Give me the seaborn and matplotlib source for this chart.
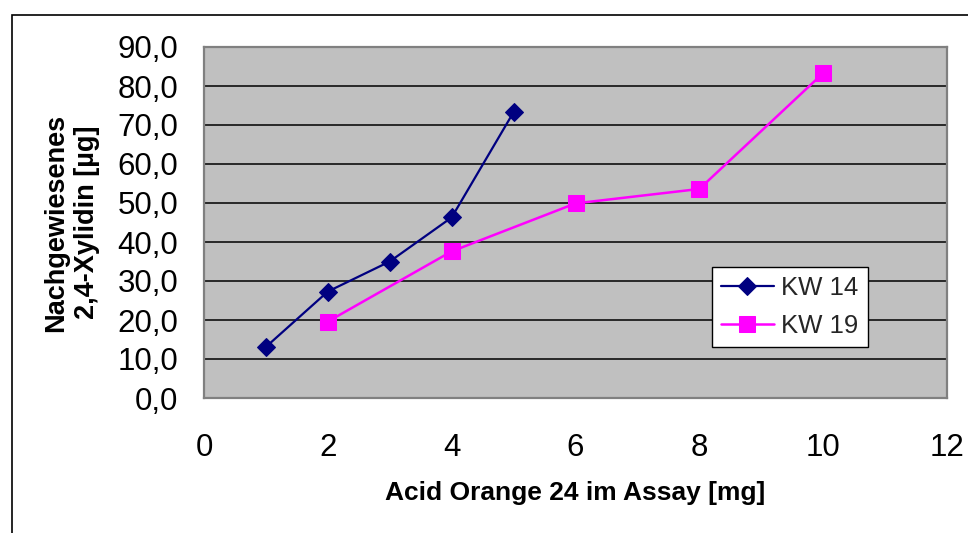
import matplotlib
matplotlib.use("Agg")
import matplotlib.pyplot as plt
from matplotlib.patches import Rectangle
import pandas as pd
import seaborn as sns

# Acid Orange 24 amount in the assay [mg] and detected 2,4-xylidine [µg]
kw14_x = [1, 2, 3, 4, 5]
kw14_y = [13.1, 27.3, 35.0, 46.3, 73.3]
kw19_x = [2, 4, 6, 8, 10]
kw19_y = [19.6, 37.6, 49.9, 53.6, 83.3]
series_names = ["KW 14", "KW 19"]

x_ticks = [0, 2, 4, 6, 8, 10, 12]
y_ticks = [0, 10, 20, 30, 40, 50, 60, 70, 80, 90]
x_title = "Acid Orange 24 im Assay [mg]"
y_title = "Nachgewiesenes\n2,4-Xylidin [µg]"

df14 = pd.DataFrame({"mg": kw14_x, "ug": kw14_y, "Serie": series_names[0]})
df19 = pd.DataFrame({"mg": kw19_x, "ug": kw19_y, "Serie": series_names[1]})

sns.set_theme(style="white")
plt.rcParams["font.family"] = ["Liberation Sans", "DejaVu Sans"]

fig = plt.figure(figsize=(9.68, 5.33), dpi=100)
ax = fig.add_axes([204 / 968, 1 - 398 / 533, 743 / 968, 351 / 533])
ax.set_facecolor("#C0C0C0")

sns.lineplot(data=df14, x="mg", y="ug", ax=ax, color="#000080", marker="D",
             markersize=8.8, markeredgecolor="#000080", linewidth=1.6,
             label=series_names[0], zorder=3)
sns.lineplot(data=df19, x="mg", y="ug", ax=ax, color="#FF00FF", marker="s",
             markersize=11, markeredgecolor="#FF00FF", linewidth=1.8,
             label=series_names[1], zorder=3)

ax.set_xlim(0, 12)
ax.set_ylim(0, 90)
ax.set_xticks(x_ticks)
ax.set_yticks(y_ticks)
ax.set_xticklabels([str(v) for v in x_ticks])
ax.set_yticklabels([f"{v:.1f}".replace(".", ",") for v in y_ticks])

ax.yaxis.grid(True, color="black", linewidth=1.1)
ax.xaxis.grid(False)
ax.set_axisbelow(True)

for side, sp in ax.spines.items():
    sp.set_visible(True)
    sp.set_color("#808080")
    sp.set_linewidth(1.6)

ax.tick_params(axis="both", which="major", direction="out", length=7.5,
               width=1.0, color="#303030", labelsize=22.5, labelcolor="black")
ax.tick_params(axis="x", pad=17.5)
ax.tick_params(axis="y", pad=11)

ax.set_xlabel(x_title, fontsize=19, fontweight="bold", color="black")
ax.set_ylabel(y_title, fontsize=19.5, fontweight="bold", color="black",
              linespacing=1.25)
ax.xaxis.set_label_coords(0.5, (398 - 481) / 351)
ax.xaxis.label.set_va("top")
ax.yaxis.set_label_coords((100 - 204) / 743, 0.5)

leg = ax.legend(loc="upper left",
                bbox_to_anchor=(712 / 968, 1 - 267 / 533),
                bbox_transform=fig.transFigure,
                frameon=True, fancybox=False, framealpha=1,
                edgecolor="black", facecolor="white", fontsize=18.5,
                handlelength=2.05, handletextpad=0.3, borderpad=0.35,
                labelspacing=0.55, borderaxespad=0)
leg.get_frame().set_linewidth(1.0)

# outer chart border (only top and left edges fall inside the canvas)
fig.add_artist(Rectangle((11.5 / 968, -0.5), 2.0, 0.5 + 1 - 14.5 / 533,
                         transform=fig.transFigure, fill=False,
                         edgecolor="black", linewidth=1.2))

fig.savefig("out.png", dpi=100, facecolor="white")
